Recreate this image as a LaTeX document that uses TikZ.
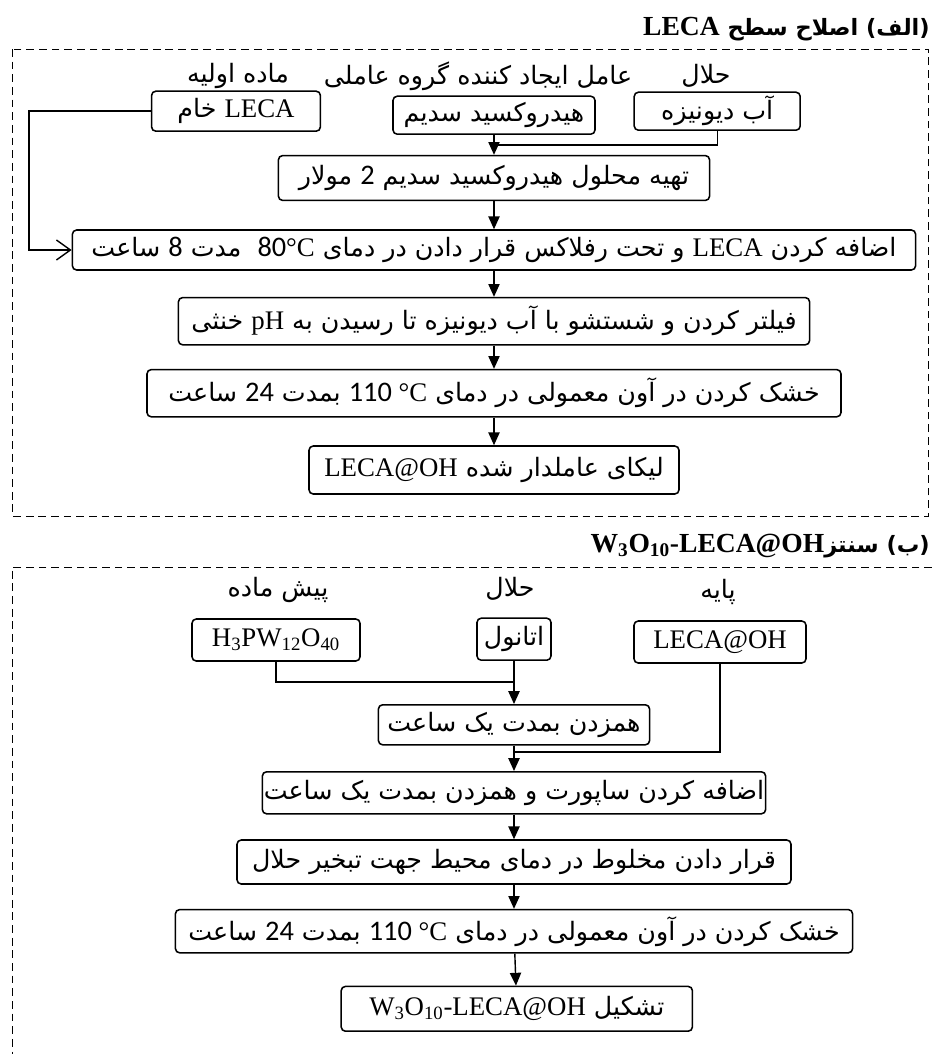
\documentclass[tikz,border=0pt]{standalone}
\usepackage{fontspec}
\setmainfont{Liberation Serif}[Scale=1.06]
\newfontfamily\fa[Script=Arabic]{DejaVu Sans}
\newfontfamily\parfont{DejaVu Sans}
\newfontfamily\digfont{Carlito}[Scale=1.12]
\usetikzlibrary{arrows.meta}
\TeXXeTstate=1
\newcommand\lat[1]{{\rmfamily\beginL#1\endL}}
\newcommand\dig[1]{{\digfont\beginL#1\endL}}
\newcommand\fatext[1]{\beginR#1\endR}
\newcommand\titlelat[1]{{\fontsize{18.5}{22}\selectfont\lat{#1}}}

\begin{document}
\begin{tikzpicture}[
  stepbox/.style={draw, line width=1.1pt, rounded corners=3pt, inner sep=1pt,
    font=\fa\fontsize{18}{22}\selectfont},
  lbl/.style={font=\fa\fontsize{18}{22}\selectfont, inner sep=0pt},
  heading/.style={anchor=east, inner sep=0pt, font=\fa\bfseries\fontsize{16}{20}\selectfont},
  arr/.style={line width=1pt, -{Triangle[length=0.32cm,width=0.28cm]}},
  barb/.style={line width=1pt, -{Straight Barb[length=0.35cm,width=0.5cm]}},
  frame/.style={line width=0.7pt, dash pattern=on 5.5pt off 3.5pt}]
\useasboundingbox (0,0) rectangle (23.3,-26.35);

% part A
\node[heading] (titleA) at (23.25,-0.72) {\fatext{{\parfont)}الف{\parfont(} اصلاح سطح \titlelat{LECA}}};
\draw[frame] (0.3,-1.225) rectangle (23.22,-12.9);

\node[lbl] (lraw) at (5.95,-1.9) {\fatext{ماده اولیه}};
\node[lbl] (lnaoh) at (11.95,-1.9) {\fatext{عامل ایجاد کننده گروه عاملی}};
\node[lbl] (lwater) at (17.65,-1.9) {\fatext{حلال}};

\node[stepbox, minimum width=4.22cm, minimum height=1cm] (raw) at (5.9,-2.78) {\fatext{\lat{LECA} خام}};
\node[stepbox, minimum width=5.05cm, minimum height=0.95cm] (naoh) at (12.35,-2.88) {\fatext{هیدروکسید سدیم}};
\node[stepbox, minimum width=4.15cm, minimum height=0.95cm] (water) at (17.93,-2.78) {\fatext{آب دیونیزه}};
\node[stepbox, minimum width=10.78cm, minimum height=1.12cm] (mix) at (12.35,-4.45) {\fatext{تهیه محلول هیدروکسید سدیم \dig{2} مولار}};
\node[stepbox, minimum width=21.08cm, minimum height=1cm] (reflux) at (12.35,-6.25) {\fatext{اضافه کردن \lat{LECA} و تحت رفلاکس قرار دادن در دمای \lat{\dig{80}°C}\ \ مدت \dig{8} ساعت}};
\node[stepbox, minimum width=15.78cm, minimum height=1.18cm] (filter) at (12.35,-8.03) {\fatext{فیلتر کردن و شستشو با آب دیونیزه تا رسیدن به \lat{pH} خنثی}};
\node[stepbox, minimum width=17.35cm, minimum height=1.18cm] (dry) at (12.35,-9.83) {\fatext{خشک کردن در آون معمولی در دمای \lat{\dig{110} °C} بمدت \dig{24} ساعت}};
\node[stepbox, minimum width=9.25cm, minimum height=1.2cm] (leca) at (12.35,-11.75) {\fatext{لیکای عاملدار شده \lat{LECA@OH}}};

\coordinate (jA) at (12.35,-3.62);
\coordinate (bendA) at (0.72,-2.78);
\draw[line width=1pt] (water) |- (jA);
\draw[arr] (naoh) -- (mix);
\draw[arr] (mix) -- (reflux);
\draw[barb] (raw) -- (bendA) |- (reflux);
\draw[arr] (reflux) -- (filter);
\draw[arr] (filter) -- (dry);
\draw[arr] (dry) -- (leca);

% part B
\node[heading] (titleB) at (23.25,-13.65) {\fatext{{\parfont)}ب{\parfont(} سنتز\titlelat{W\textsubscript{3}O\textsubscript{10}-LECA@OH}}};
\draw[frame] (23.3,-14.18) -- (0.3,-14.18) -- (0.3,-26.4);

\node[lbl] (lpre) at (6.95,-14.75) {\fatext{پیش ماده}};
\node[lbl] (leth) at (12.75,-14.72) {\fatext{حلال}};
\node[lbl] (lsup) at (17.95,-14.8) {\fatext{پایه}};

\node[stepbox, minimum width=4.2cm, minimum height=1.05cm] (pre) at (6.9,-16.0) {\lat{H\textsubscript{3}PW\textsubscript{12}O\textsubscript{40}}};
\node[stepbox, minimum width=1.85cm, minimum height=1.05cm] (eth) at (12.85,-15.98) {\fatext{اتانول}};
\node[stepbox, minimum width=4.3cm, minimum height=1.05cm] (sup) at (18.0,-16.05) {\lat{LECA@OH}};
\node[stepbox, minimum width=6.78cm, minimum height=1cm] (stir) at (12.85,-18.12) {\fatext{همزدن بمدت یک ساعت}};
\node[stepbox, minimum width=12.5cm, minimum height=1.05cm] (add) at (12.85,-19.82) {\fatext{اضافه کردن ساپورت و همزدن بمدت یک ساعت}};
\node[stepbox, minimum width=13.85cm, minimum height=1.1cm] (evap) at (12.85,-21.55) {\fatext{قرار دادن مخلوط در دمای محیط جهت تبخیر حلال}};
\node[stepbox, minimum width=16.93cm, minimum height=1.08cm] (dryB) at (12.85,-23.28) {\fatext{خشک کردن در آون معمولی در دمای \lat{\dig{110} °C} بمدت \dig{24} ساعت}};
\node[stepbox, minimum width=8.78cm, minimum height=1.12cm] (final) at (12.92,-25.22) {\fatext{تشکیل \lat{W\textsubscript{3}O\textsubscript{10}-LECA@OH}}};

\coordinate (jB) at (12.85,-17.05);
\coordinate (jC) at (12.85,-18.8);
\draw[line width=1pt] (pre) |- (jB);
\draw[arr] (eth) -- (stir);
\draw[line width=1pt] (sup) |- (jC);
\draw[arr] (stir) -- (add);
\draw[arr] (add) -- (evap);
\draw[arr] (evap) -- (dryB);
\draw[arr] (dryB) -- (final);
\end{tikzpicture}
\end{document}
